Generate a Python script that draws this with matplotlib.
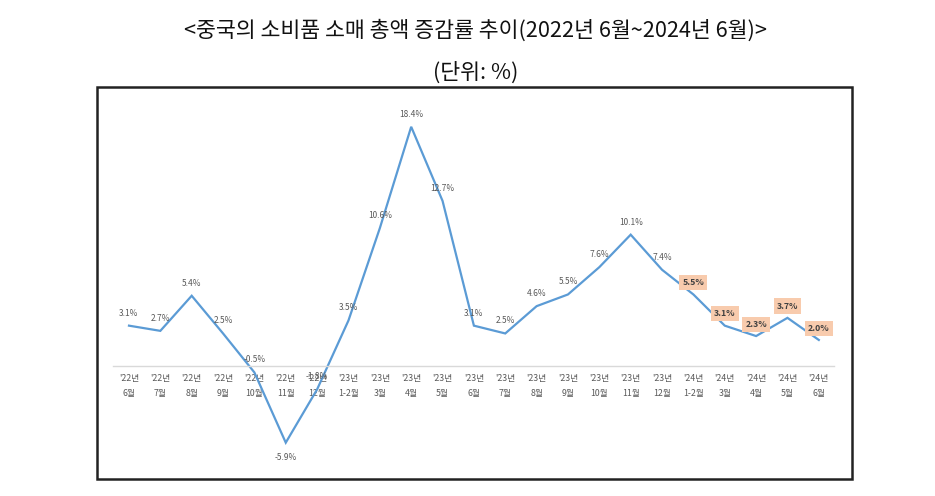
import matplotlib.pyplot as plt
from matplotlib.patches import Rectangle

plt.rcParams['font.family'] = ['Noto Sans CJK KR', 'DejaVu Sans']

# 기간 라벨 (두 줄)
years = ["'22년"] * 7 + ["'23년"] * 11 + ["'24년"] * 5
months = ['6월', '7월', '8월', '9월', '10월', '11월', '12월',
          '1-2월', '3월', '4월', '5월', '6월', '7월', '8월', '9월', '10월', '11월', '12월',
          '1-2월', '3월', '4월', '5월', '6월']

# 증감률 (%)
values = [3.1, 2.7, 5.4, 2.5, -0.5, -5.9, -1.8,
          3.5, 10.6, 18.4, 12.7, 3.1, 2.5, 4.6, 5.5, 7.6, 10.1, 7.4,
          5.5, 3.1, 2.3, 3.7, 2.0]

# 강조 표시할 마지막 구간
highlight_from = 18

fig = plt.figure(figsize=(9.35, 4.96), dpi=100)

# 제목
fig.text(0.509, 0.938, '<중국의 소비품 소매 총액 증감률 추이(2022년 6월~2024년 6월)>',
         ha='center', va='center', fontsize=15.6, color='#111111')
fig.text(0.509, 0.853, '(단위: %)', ha='center', va='center', fontsize=15.6, color='#111111')

# 바깥 테두리
fig.patches.append(Rectangle((97 / 935, 1 - 479 / 496), 755 / 935, 392 / 496,
                             transform=fig.transFigure, fill=False,
                             edgecolor='#222222', linewidth=1.8))

ax = fig.add_axes([97 / 935, 1 - 478 / 496, 756 / 935, 391 / 496])
x = list(range(len(values)))
ax.plot(x, values, color='#5B9BD5', linewidth=1.6, solid_joinstyle='miter')

ax.set_xlim(-1.02, 23.09)
ax.set_ylim(-8.62, 21.46)

for s in ['top', 'right', 'left']:
    ax.spines[s].set_visible(False)
ax.spines['bottom'].set_position(('data', 0))
ax.spines['bottom'].set_color('#D9D9D9')
ax.spines['bottom'].set_linewidth(1.0)
ax.spines['bottom'].set_bounds(-0.5, 22.5)
ax.set_yticks([])
ax.set_xticks(x)
ax.set_xticklabels([f'{y}\n{m}' for y, m in zip(years, months)],
                   fontsize=6.3, color='#595959', linespacing=1.75)
ax.tick_params(axis='x', length=0, pad=6)

for i, v in enumerate(values):
    if i >= highlight_from:
        ax.annotate(f'{v:.1f}%', (i, v), xytext=(0, 8.5), textcoords='offset points',
                    ha='center', va='center', fontsize=6.3, fontweight='bold', color='#404040',
                    bbox=dict(boxstyle='square,pad=0.35', facecolor='#F8CBAD', edgecolor='none'))
    elif v < -3:
        ax.annotate(f'{v:.1f}%', (i, v), xytext=(0, -11), textcoords='offset points',
                    ha='center', va='center', fontsize=6, color='#595959')
    else:
        ax.annotate(f'{v:.1f}%', (i, v), xytext=(0, 9), textcoords='offset points',
                    ha='center', va='center', fontsize=6, color='#595959')

fig.savefig('out.png', dpi=100)
